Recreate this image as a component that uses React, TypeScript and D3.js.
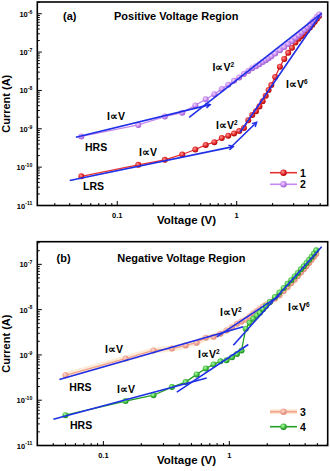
import React from "react";
import * as d3 from "d3";

// ---------- data ----------
const voltages = [0.05, 0.15, 0.25, 0.35, 0.45, 0.55, 0.65, 0.75, 0.85, 0.95,
  1.05, 1.15, 1.25, 1.35, 1.45, 1.55, 1.65, 1.75, 1.85, 1.95,
  2.1, 2.3, 2.5, 2.7, 2.9, 3.1, 3.3, 3.5, 3.7, 3.9, 4.1, 4.3, 4.5, 4.7, 4.9];

// log10(current in A)
const curve1 = [-10.24, -9.94, -9.81, -9.67, -9.54, -9.42, -9.35, -9.24, -9.18, -9.12,
  -9.06, -8.98, -8.78, -8.64, -8.54, -8.42, -8.28, -8.14, -7.99, -7.86,
  -7.65, -7.38, -7.18, -7.02, -6.89, -6.75, -6.65, -6.58, -6.50, -6.43, -6.36, -6.29, -6.21, -6.13, -6.06];
const curve2 = [-9.20, -8.90, -8.68, -8.58, -8.39, -8.23, -8.10, -7.96, -7.85, -7.75,
  -7.66, -7.57, -7.49, -7.42, -7.37, -7.32, -7.26, -7.21, -7.16, -7.11,
  -7.04, -6.95, -6.87, -6.79, -6.71, -6.63, -6.56, -6.49, -6.42, -6.35, -6.28, -6.21, -6.15, -6.08, -6.02];
const curve3 = [-9.45, -9.08, -8.90, -8.86, -8.79, -8.73, -8.62, -8.60, -8.53, -8.46,
  -8.39, -8.31, -8.26, -8.22, -8.15, -8.08, -8.03, -7.98, -7.93, -7.89,
  -7.83, -7.76, -7.68, -7.59, -7.50, -7.42, -7.34, -7.26, -7.18, -7.11, -7.04, -6.97, -6.90, -6.83, -6.77];
const curve4 = [-10.33, -10.02, -9.89, -9.71, -9.60, -9.43, -9.30, -9.21, -9.14, -9.12,
  -9.05, -8.98, -8.90, -8.42, -8.29, -8.20, -8.13, -8.07, -7.99, -7.92,
  -7.83, -7.72, -7.62, -7.52, -7.43, -7.35, -7.27, -7.19, -7.11, -7.04, -6.97, -6.90, -6.83, -6.76, -6.69];

// fitted lines: [V0, log I0, V1, log I1, arrowhead]
const fitsA: [number, number, number, number, boolean][] = [
  [0.045, -9.22, 0.60, -8.37, true],
  [0.40, -8.70, 5.16, -5.985, false],
  [0.040, -10.35, 0.935, -9.465, true],
  [0.88, -9.50, 1.47, -8.83, true],
  [1.066, -9.09, 4.99, -6.04, false],
];
const fitsB: [number, number, number, number, boolean][] = [
  [0.0448, -9.544, 1.29, -8.38, false],
  [0.795, -8.60, 2.5, -7.69, false],
  [1.076, -8.785, 5.41, -6.61, false],
  [0.0401, -10.42, 0.662, -9.51, false],
  [0.383, -9.82, 1.415, -8.77, false],
];

const xTickLabels = ["0.1", "1"];
const yExpA = [-11, -10, -9, -8, -7, -6];
const yExpB = [-11, -10, -9, -8, -7];

const FONT = "'Liberation Sans', Arial, Helvetica, sans-serif";
const BLUE = "#1f2fe6";

type Series = { name: string; vals: number[]; grad: string; line: string; glow?: string };

type PanelCfg = {
  id: string;
  x0: number; x1: number; y0: number; y1: number;
  xDom: [number, number]; yDom: [number, number];
  yExp: number[];
  series: Series[];
  fits: [number, number, number, number, boolean][];
};

const panelA: PanelCfg = {
  id: "a", x0: 37.3, x1: 327.7, y0: 2, y1: 205.5,
  xDom: [0.0214, 5.78], yDom: [1e-11, Math.pow(10, -5.694)],
  yExp: yExpA,
  series: [
    { name: "1", vals: curve1, grad: "gRed", line: "#e83030" },
    { name: "2", vals: curve2, grad: "gPur", line: "#c488f0" },
  ],
  fits: fitsA,
};
const panelB: PanelCfg = {
  id: "b", x0: 37.3, x1: 327.7, y0: 241.7, y1: 445.5,
  xDom: [0.0299, 6.04], yDom: [1e-11, Math.pow(10, -6.5)],
  yExp: yExpB,
  series: [
    { name: "3", vals: curve3, grad: "gSal", line: "#f0a090", glow: "#fde6cc" },
    { name: "4", vals: curve4, grad: "gGrn", line: "#22a022" },
  ],
  fits: fitsB,
};

function Sup({ base, exp, x, y, size, anchor }: any) {
  return (
    <text x={x} y={y} fontFamily={FONT} fontWeight="bold" fontSize={size} textAnchor={anchor} fill="#000">
      {base}
      <tspan fontSize={size * 0.68} dy={-size * 0.42}>{exp}</tspan>
    </text>
  );
}

function Panel({ cfg, children }: { cfg: PanelCfg; children?: any }) {
  const x = d3.scaleLog().domain(cfg.xDom).range([cfg.x0, cfg.x1]);
  const y = d3.scaleLog().domain(cfg.yDom).range([cfg.y1, cfg.y0]);
  const line = d3.line<[number, number]>().x((d) => x(d[0])).y((d) => y(Math.pow(10, d[1])));

  const xMinor: number[] = [];
  for (let e = -2; e <= 0; e++) for (let k = 1; k <= 9; k++) {
    const v = k * Math.pow(10, e);
    if (v > cfg.xDom[0] && v < cfg.xDom[1]) xMinor.push(v);
  }
  const yMinor: number[] = [];
  for (let e = -12; e <= -5; e++) for (let k = 1; k <= 9; k++) {
    const v = k * Math.pow(10, e);
    if (v >= cfg.yDom[0] && v < cfg.yDom[1]) yMinor.push(v);
  }
  const clipId = "clip" + cfg.id;
  return (
    <g>
      <clipPath id={clipId}>
        <rect x={cfg.x0} y={cfg.y0} width={cfg.x1 - cfg.x0} height={cfg.y1 - cfg.y0} />
      </clipPath>
      <g clipPath={`url(#${clipId})`}>
        {cfg.series.map((s) => {
          const pts = voltages.map((v, i) => [v, s.vals[i]] as [number, number]);
          return (
            <g key={s.name}>
              {s.glow && (
                <path d={line(pts) || ""} fill="none" stroke={s.glow} strokeWidth={6} strokeLinecap="round" strokeLinejoin="round" opacity={0.8} />
              )}
              <path d={line(pts) || ""} fill="none" stroke={s.line} strokeWidth={1.3} />
              {pts.map((p, i) => (
                <circle key={i} cx={x(p[0])} cy={y(Math.pow(10, p[1]))} r={3} fill={`url(#${s.grad})`} />
              ))}
            </g>
          );
        })}
        {cfg.fits.map((f, i) => {
          const ax = x(f[0]), ay = y(Math.pow(10, f[1]));
          const bx = x(f[2]), by = y(Math.pow(10, f[3]));
          const ang = Math.atan2(by - ay, bx - ax);
          const L = 5, w = 0.5;
          return (
            <g key={i}>
              <line x1={ax} y1={ay} x2={bx} y2={by} stroke={BLUE} strokeWidth={1.6} />
              {f[4] && (
                <path
                  d={`M${bx - L * Math.cos(ang - w)},${by - L * Math.sin(ang - w)}L${bx},${by}L${bx - L * Math.cos(ang + w)},${by - L * Math.sin(ang + w)}`}
                  fill="none" stroke={BLUE} strokeWidth={1.4}
                />
              )}
            </g>
          );
        })}
      </g>
      {/* frame */}
      <rect x={cfg.x0} y={cfg.y0} width={cfg.x1 - cfg.x0} height={cfg.y1 - cfg.y0} fill="none" stroke="#000" strokeWidth={1.6} />
      {/* x ticks */}
      {xMinor.map((v, i) => {
        const major = Math.abs(Math.log10(v) - Math.round(Math.log10(v))) < 1e-9;
        return <line key={i} x1={x(v)} x2={x(v)} y1={cfg.y1} y2={cfg.y1 - (major ? 4.5 : 2.5)} stroke="#000" strokeWidth={1} />;
      })}
      {yMinor.map((v, i) => {
        const major = Math.abs(Math.log10(v) - Math.round(Math.log10(v))) < 1e-9;
        return <line key={i} x1={cfg.x0} x2={cfg.x0 + (major ? 4.5 : 2.5)} y1={y(v)} y2={y(v)} stroke="#000" strokeWidth={1} />;
      })}
      {xTickLabels.map((t) => (
        <text key={t} x={x(+t)} y={cfg.y1 + 12} fontFamily={FONT} fontWeight="bold" fontSize={7.5} textAnchor="middle">{t}</text>
      ))}
      {cfg.yExp.map((e) => (
        <Sup key={e} base="10" exp={String(e)} x={cfg.x0 - 5} y={y(Math.pow(10, e)) + 3} size={7.5} anchor="end" />
      ))}
      <text x={(cfg.x0 + cfg.x1) / 2 + 4} y={cfg.y1 + 18.5} fontFamily={FONT} fontWeight="bold" fontSize={11.5} textAnchor="middle">Voltage (V)</text>
      <text transform={`translate(10,${(cfg.y0 + cfg.y1) / 2}) rotate(-90)`} fontFamily={FONT} fontWeight="bold" fontSize={11} textAnchor="middle">Current (A)</text>
      {/* legend */}
      {cfg.series.map((s, i) => {
        const ly = cfg.id === "a" ? 172.7 + i * 11.6 : 411.7 + i * 15;
        return (
          <g key={s.name}>
            {s.glow && <line x1={270} x2={297} y1={ly} y2={ly} stroke={s.glow} strokeWidth={5} />}
            <line x1={270} x2={297} y1={ly} y2={ly} stroke={s.line} strokeWidth={1.6} />
            <circle cx={283.5} cy={ly} r={3.2} fill={`url(#${s.grad})`} />
            <text x={300} y={ly + 3.8} fontFamily={FONT} fontWeight="bold" fontSize={10.5}>{s.name}</text>
          </g>
        );
      })}
      {children}
    </g>
  );
}

function Lbl({ x, y, t }: { x: number; y: number; t: string }) {
  return <text x={x} y={y} fontFamily={FONT} fontWeight="bold" fontSize={10.5}>{t}</text>;
}
function Prop({ x, y, p }: { x: number; y: number; p?: string }) {
  return (
    <text x={x} y={y} fontFamily={FONT} fontWeight="bold" fontSize={10.5}>
      I∝V{p && <tspan fontSize={6.5} dy={-4}>{p}</tspan>}
    </text>
  );
}

function Grad({ id, c0, c1, c2 }: { id: string; c0: string; c1: string; c2: string }) {
  return (
    <radialGradient id={id} cx="0.4" cy="0.38" r="0.65">
      <stop offset="0" stopColor={c0} />
      <stop offset="0.55" stopColor={c1} />
      <stop offset="1" stopColor={c2} />
    </radialGradient>
  );
}

export default function App() {
  return (
    <svg width={330} height={471} style={{ position: "absolute", left: 0, top: 0, background: "#fff" }}>
      <defs>
        <Grad id="gRed" c0="#ff9a9a" c1="#e42a2a" c2="#a80000" />
        <Grad id="gPur" c0="#f0d8ff" c1="#c68af0" c2="#9a58cc" />
        <Grad id="gSal" c0="#ffe0d6" c1="#f2a494" c2="#d88878" />
        <Grad id="gGrn" c0="#b8ffa8" c1="#42c042" c2="#12801a" />
      </defs>
      <rect width={330} height={471} fill="#fff" />
      <Panel cfg={panelA}>
        <text x={63} y={19.5} fontFamily={FONT} fontWeight="bold" fontSize={11}>(a)</text>
        <text x={114} y={19.5} fontFamily={FONT} fontWeight="bold" fontSize={11}>Positive Voltage Region</text>
        <Prop x={107} y={119.5} />
        <Lbl x={85} y={150.5} t="HRS" />
        <Prop x={139} y={155.5} />
        <Lbl x={83} y={190} t="LRS" />
        <Prop x={212.5} y={70.5} p="2" />
        <Prop x={216} y={129} p="2" />
        <Prop x={286} y={88} p="6" />
      </Panel>
      <Panel cfg={panelB}>
        <text x={56.5} y={261.5} fontFamily={FONT} fontWeight="bold" fontSize={11}>(b)</text>
        <text x={117.3} y={261.5} fontFamily={FONT} fontWeight="bold" fontSize={11}>Negative Voltage Region</text>
        <Prop x={105} y={353} />
        <Lbl x={69.3} y={390.5} t="HRS" />
        <Prop x={117} y={393} />
        <Lbl x={70} y={429} t="HRS" />
        <Prop x={220} y={316} p="2" />
        <Prop x={198} y={357.5} p="2" />
        <Prop x={288} y={310.5} p="6" />
      </Panel>
    </svg>
  );
}
